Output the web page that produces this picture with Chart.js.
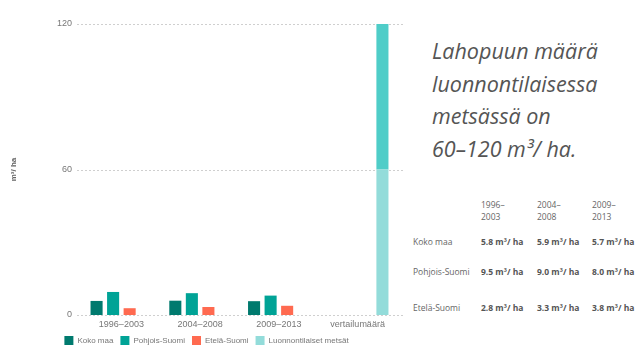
<!DOCTYPE html>
<html>
<head>
<meta charset="utf-8">
<script src="https://cdn.jsdelivr.net/npm/chart.js@4"></script>
<style>
  html, body { margin:0; padding:0; background:#fff; }
  body { width:640px; height:359px; position:relative; overflow:hidden; font-family:"Open Sans", sans-serif; }
  #wrap { position:absolute; left:0; top:0; width:410px; height:359px; }
  #quote { position:absolute; left:432px; top:35px; font-family:"Open Sans", sans-serif; font-style:italic; font-size:21.5px; line-height:32.5px; color:#555; white-space:nowrap; }
  .cell { position:absolute; font-family:"Open Sans", sans-serif; font-size:8.5px; line-height:12px; color:#666; white-space:nowrap; }
  .val { font-weight:bold; color:#555; }
</style>
</head>
<body>
<div id="wrap"><canvas id="c"></canvas></div>
<div id="quote">Lahopuun määrä<br>luonnontilaisessa<br>metsässä on<br>60–120 m³/ ha.</div>
<div id="table"></div>
<script>
const categories = ['1996–2003', '2004–2008', '2009–2013', 'vertailumäärä'];
const periodsShort = [['1996–','2003'], ['2004–','2008'], ['2009–','2013']];
const kokoMaa = [5.8, 5.9, 5.7, null];
const pohjoisSuomi = [9.5, 9.0, 8.0, null];
const etelaSuomi = [2.8, 3.3, 3.8, null];
const luonnonLower = [null, null, null, 60];
const luonnonUpper = [null, null, null, 60];
const yTicks = [0, 60, 120];
const unit = 'm³/ ha';

const gridPlugin = {
  id: 'dashGrid',
  beforeDatasetsDraw(chart) {
    const y = chart.scales.y, ctx = chart.ctx, a = chart.chartArea;
    ctx.save();
    ctx.strokeStyle = '#cfcfcf';
    ctx.lineWidth = 1;
    ctx.setLineDash([2, 2]);
    y.ticks.forEach(t => {
      const py = Math.round(y.getPixelForValue(t.value)) + 0.5;
      ctx.beginPath(); ctx.moveTo(a.left - 5, py); ctx.lineTo(a.right + 7, py); ctx.stroke();
    });
    ctx.restore();
  }
};

const common = { categoryPercentage: 0.84, barPercentage: 0.73, borderWidth: 0 };
new Chart(document.getElementById('c'), {
  type: 'bar',
  data: {
    labels: categories,
    datasets: [
      { label: 'Koko maa', data: kokoMaa, backgroundColor: '#007a6e', stack: 'a', ...common },
      { label: 'Pohjois-Suomi', data: pohjoisSuomi, backgroundColor: '#00a396', stack: 'b', ...common },
      { label: 'Etelä-Suomi', data: etelaSuomi, backgroundColor: '#ff6a50', stack: 'c', ...common },
      { label: 'Luonnontilaiset metsät', data: luonnonLower, backgroundColor: '#93dcda', stack: 'd', ...common },
      { label: 'upper', data: luonnonUpper, backgroundColor: '#4fcdc8', stack: 'd', ...common }
    ]
  },
  options: {
    responsive: true,
    maintainAspectRatio: false,
    animation: false,
    layout: { padding: { top: 24, right: 13, left: 16, bottom: 4 } },
    plugins: {
      tooltip: { enabled: false },
      legend: {
        position: 'bottom',
        labels: {
          filter: item => item.text !== 'upper',
          boxWidth: 9, boxHeight: 9, padding: 7,
          color: '#777',
          font: { family: 'Liberation Sans, Arial, sans-serif', size: 8 }
        }
      }
    },
    scales: {
      x: {
        stacked: true,
        afterFit: s => { s.height = 14; },
        grid: { display: false, drawTicks: false },
        border: { display: false },
        ticks: { color: '#777', padding: 4, font: { family: 'Liberation Sans, Arial, sans-serif', size: 9 } }
      },
      y: {
        stacked: true,
        min: 0, max: 120,
        afterBuildTicks: s => { s.ticks = yTicks.map(v => ({ value: v })); },
        afterFit: s => { s.width = 66; },
        grid: { display: false, drawTicks: false },
        border: { display: false },
        ticks: { color: '#777', padding: 10, font: { family: 'Liberation Sans, Arial, sans-serif', size: 9 } },
        title: { display: true, text: unit, color: '#666', padding: { top: -6.8, bottom: 0 }, font: { family: 'Liberation Sans, Arial, sans-serif', size: 8, weight: 'bold' } }
      }
    }
  },
  plugins: [gridPlugin]
});

// table
const tbl = document.getElementById('table');
const colX = [481, 537, 592];
const rowY = [236, 266, 302];
const rows = [['Koko maa', kokoMaa], ['Pohjois-Suomi', pohjoisSuomi], ['Etelä-Suomi', etelaSuomi]];
function cell(text, x, y, cls) {
  const d = document.createElement('div');
  d.className = 'cell' + (cls ? ' ' + cls : '');
  d.style.left = x + 'px'; d.style.top = y + 'px';
  d.innerHTML = text;
  tbl.appendChild(d);
}
periodsShort.forEach((p, i) => cell(p[0] + '<br>' + p[1], colX[i], 199));
rows.forEach((r, j) => {
  cell(r[0], 413, rowY[j]);
  r[1].slice(0, 3).forEach((v, i) => cell(v.toFixed(1) + ' ' + unit, colX[i], rowY[j], 'val'));
});
</script>
</body>
</html>
